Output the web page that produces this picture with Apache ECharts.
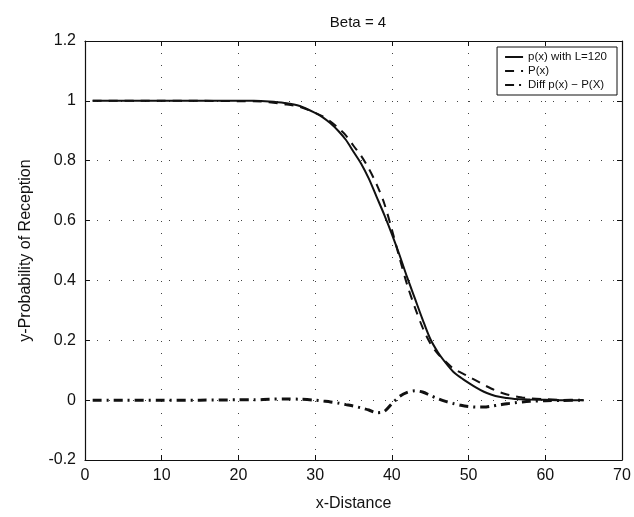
<!DOCTYPE html>
<html>
<head>
<meta charset="utf-8">
<script src="https://cdn.jsdelivr.net/npm/echarts@6/dist/echarts.min.js"></script>
<style>html,body{margin:0;padding:0;background:#fff;}#c{width:634px;height:517px;}</style>
</head>
<body>
<div id="c"></div>
<script>
const xs = [1,5,10,15,20,22,24,26,28,30,31,32,33,34,35,36,37,38,39,40,41,42,43,44,45,46,47,48,49,50,51,52,53,54,55,56,57,58,60,62,65];
const pVals = [1,1,1,1,1,1,0.998,0.993,0.983,0.96,0.945,0.925,0.9,0.87,0.83,0.79,0.74,0.68,0.62,0.555,0.485,0.41,0.34,0.27,0.205,0.16,0.125,0.095,0.075,0.058,0.042,0.028,0.018,0.011,0.007,0.004,0.003,0.002,0.001,0,0];
const PVals = [1,1,1,1,0.999,0.999,0.995,0.989,0.98,0.96,0.948,0.931,0.91,0.885,0.85,0.816,0.773,0.722,0.658,0.57,0.475,0.385,0.31,0.243,0.19,0.155,0.129,0.106,0.092,0.079,0.065,0.051,0.038,0.027,0.019,0.013,0.009,0.006,0.003,0.001,0];
const diffVals = [0,0,0,0,0.001,0.001,0.003,0.004,0.003,0,-0.003,-0.006,-0.01,-0.015,-0.02,-0.026,-0.033,-0.042,-0.038,-0.012,0.012,0.026,0.031,0.027,0.016,0.005,-0.004,-0.011,-0.017,-0.021,-0.023,-0.023,-0.02,-0.016,-0.012,-0.009,-0.006,-0.004,-0.002,-0.001,0];
const seriesNames = ['p(x) with L=120', 'P(x)', 'Diff p(x) \u2212 P(X)'];
const xTicks = {min: 0, max: 70, interval: 10};
const yTicks = {min: -0.2, max: 1.2, interval: 0.2};

const pair = vals => xs.map((x, i) => [x, vals[i]]);
const font = '"Liberation Sans", Arial, Helvetica, sans-serif';
const ink = '#111';
const grid = {type: [1, 11], color: '#444', width: 1};

const chart = echarts.init(document.getElementById('c'), null, {renderer: 'canvas'});
chart.setOption({
  backgroundColor: '#fff',
  animation: false,
  textStyle: {fontFamily: font},
  title: {
    text: 'Beta = 4', left: 353, top: 10, textAlign: 'center',
    textStyle: {fontFamily: font, fontSize: 15, fontWeight: 'normal', color: ink}
  },
  grid: {left: 85, right: 12, top: 41, bottom: 54, containLabel: false},
  legend: {
    orient: 'vertical', right: 17, top: 47,
    data: seriesNames,
    backgroundColor: '#fff', borderColor: ink, borderWidth: 1,
    padding: [4, 10, 4, 7], itemGap: 2, itemWidth: 18, itemHeight: 10,
    itemStyle: {opacity: 0},
    textStyle: {fontFamily: font, fontSize: 11.5, color: ink}
  },
  xAxis: [
    {type: 'value', min: xTicks.min, max: xTicks.max, interval: xTicks.interval,
     name: 'x-Distance', nameLocation: 'middle', nameGap: 36,
     nameTextStyle: {fontFamily: font, fontSize: 16, color: ink},
     axisLine: {onZero: false, lineStyle: {color: ink, width: 1.2}},
     axisTick: {inside: true, length: 5, lineStyle: {color: ink}},
     axisLabel: {fontFamily: font, fontSize: 16, color: ink, margin: 8},
     splitLine: {show: true, lineStyle: grid}},
    {type: 'value', position: 'top', min: xTicks.min, max: xTicks.max, interval: xTicks.interval,
     axisLine: {show: true, onZero: false, lineStyle: {color: ink, width: 1.2}},
     axisTick: {inside: true, length: 5, lineStyle: {color: ink}},
     axisLabel: {show: false}, splitLine: {show: false}}
  ],
  yAxis: [
    {type: 'value', min: yTicks.min, max: yTicks.max, interval: yTicks.interval,
     name: 'y-Probability of Reception', nameLocation: 'middle', nameGap: 51,
     nameTextStyle: {fontFamily: font, fontSize: 16, color: ink},
     axisLine: {show: true, onZero: false, lineStyle: {color: ink, width: 1.2}},
     axisTick: {show: true, inside: true, length: 5, lineStyle: {color: ink}},
     axisLabel: {fontFamily: font, fontSize: 16, color: ink, margin: 9,
                 formatter: v => String(+v.toFixed(1))},
     splitLine: {show: true, lineStyle: grid}},
    {type: 'value', position: 'right', min: yTicks.min, max: yTicks.max, interval: yTicks.interval,
     axisLine: {show: true, onZero: false, lineStyle: {color: ink, width: 1.2}},
     axisTick: {show: true, inside: true, length: 5, lineStyle: {color: ink}},
     axisLabel: {show: false}, splitLine: {show: false}}
  ],
  series: [
    {name: seriesNames[0], type: 'line', data: pair(pVals), smooth: 0.3, symbol: 'none',
     lineStyle: {color: ink, width: 2}, itemStyle: {color: ink}, z: 5},
    {name: seriesNames[1], type: 'line', data: pair(PVals), smooth: 0.3, symbol: 'none',
     lineStyle: {color: ink, width: 2, type: [9, 7]}, itemStyle: {color: ink}, z: 4},
    {name: seriesNames[2], type: 'line', data: pair(diffVals), smooth: 0.3, symbol: 'none',
     lineStyle: {color: ink, width: 3, type: [9, 5, 2, 5]}, itemStyle: {color: ink}, z: 4}
  ]
});
</script>
</body>
</html>
